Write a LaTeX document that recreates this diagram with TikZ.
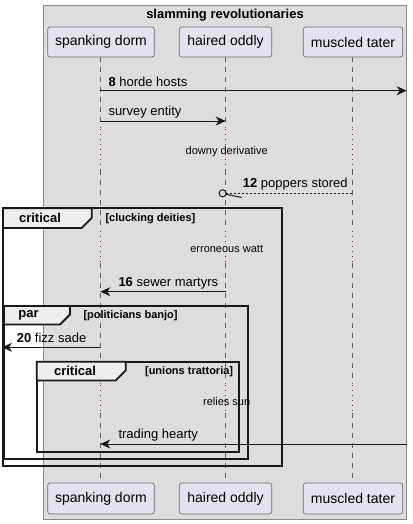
\documentclass[tikz,border=0pt]{standalone}
\usepackage{fontspec}
\setmainfont{Liberation Sans}
\usetikzlibrary{arrows.meta}
\definecolor{boxgrey}{HTML}{DDDDDD}
\definecolor{boxedge}{HTML}{8A8A8A}
\definecolor{partfill}{HTML}{E2E2F0}
\definecolor{partedge}{HTML}{6A6A6A}
\definecolor{lineink}{HTML}{181818}
\definecolor{lifegrey}{HTML}{606060}
\definecolor{delayred}{HTML}{B0003A}
\definecolor{tabfill}{HTML}{EEEEEE}
\tikzset{
  part/.style={draw=partedge, line width=0.7pt, fill=partfill, rounded corners=2.5pt,
    minimum height=30pt, inner sep=0pt, font=\fontsize{14}{16}\selectfont},
  lifedash/.style={draw=lifegrey, line width=0.6pt, dash pattern=on 5pt off 5pt},
  lifedot/.style={draw=delayred, line width=1pt, dash pattern=on 1pt off 4pt},
  msg/.style={draw=lineink, line width=1pt, -{Stealth[length=10pt,width=9pt,inset=3pt]}},
  msglabel/.style={inner sep=0pt, anchor=west, font=\fontsize{13}{15}\selectfont},
  delaytext/.style={inner sep=0pt, font=\fontsize{11}{13}\selectfont},
  framebox/.style={draw=lineink, line width=1.8pt},
  tabshape/.style={draw=lineink, line width=1.8pt, fill=tabfill},
  tabtext/.style={inner sep=0pt, font=\bfseries\fontsize{13}{15}\selectfont},
  guardtext/.style={inner sep=0pt, font=\bfseries\fontsize{11}{13}\selectfont}
}
\begin{document}
\begin{tikzpicture}[x=1pt,y=-1pt]
\useasboundingbox (0,0) rectangle (412,524);
% grey box
\draw[fill=boxgrey, draw=boxedge, line width=1pt] (43.3,6) rectangle (406.7,519);
\node[inner sep=0pt, font=\bfseries\fontsize{13}{15}\selectfont] (title) at (225,15.5) {slamming revolutionaries};
% lifelines
\foreach \x in {100.3,225.7,352.3}{
  \draw[lifedash] (\x,57) -- (\x,128);
  \draw[lifedot] (\x,129) -- (\x,170);
  \draw[lifedash] (\x,170) -- (\x,230);
  \draw[lifedot] (\x,231) -- (\x,263);
  \draw[lifedash] (\x,263) -- (\x,384);
  \draw[lifedot] (\x,385) -- (\x,413);
  \draw[lifedash] (\x,413) -- (\x,483);
}
% participants
\node[part, minimum width=106.6pt] (sdT) at (101,42) {spanking dorm};
\node[part, minimum width=92.4pt] (hoT) at (225.5,42) {haired oddly};
\node[part, minimum width=99.4pt] (mtT) at (353,42) {muscled tater};
\node[part, minimum width=106.6pt, minimum height=31pt] (sdB) at (101,498.5) {spanking dorm};
\node[part, minimum width=92.4pt, minimum height=31pt] (hoB) at (225.5,498.5) {haired oddly};
\node[part, minimum width=99.4pt, minimum height=31pt] (mtB) at (353,498.5) {muscled tater};
% message 8
\coordinate (m8a) at (100.3,90.7);
\coordinate (m8b) at (406.7,90.7);
\draw[msg] (m8a) -- (m8b);
\node[msglabel] (l8) at (108.3,81.5) {\textbf{8} horde hosts};
% survey entity
\coordinate (mSa) at (100.3,121);
\coordinate (mSb) at (225.7,121);
\draw[msg] (mSa) -- (mSb);
\node[msglabel] (lS) at (108.3,112.5) {survey entity};
% delay 1
\node[delaytext] (d1) at (226.7,151.5) {downy derivative};
% message 12
\coordinate (m12a) at (352.3,193.3);
\coordinate (m12c) at (222.7,193.3);
\draw[draw=lineink, line width=0.8pt, dash pattern=on 2pt off 2pt] (m12a) -- ([xshift=4pt]m12c);
\draw[draw=lineink, line width=1pt] (m12c) circle (3.6pt);
\draw[draw=lineink, line width=1pt] ([xshift=3.4pt,yshift=-1pt]m12c) -- ([xshift=19pt,yshift=-4.2pt]m12c);
\node[msglabel] (l12) at (242.7,184) {\textbf{12} poppers stored};
% outer critical frame
\draw[framebox] (3,208.3) rectangle (281.7,465.7);
\draw[tabshape] (3,208.3) -- (91.7,208.3) -- (91.7,218) -- (81.7,228) -- (3,228) -- cycle;
\node[tabtext] (t1) at (40,218.3) {critical};
\node[guardtext, anchor=west] (g1) at (105.3,218.3) {[clucking deities]};
% delay 2
\node[delaytext] (d2) at (226.7,249.3) {erroneous watt};
% message 16
\coordinate (m16a) at (225.7,291.7);
\coordinate (m16b) at (100.3,291.7);
\draw[msg] (m16a) -- (m16b);
\node[msglabel] (l16) at (118.3,283) {\textbf{16} sewer martyrs};
% par frame
\draw[framebox] (4,306) rectangle (248.3,459.3);
\draw[tabshape] (4,306) -- (70,306) -- (70,314.5) -- (60,324.5) -- (4,324.5) -- cycle;
\node[tabtext] (t2) at (28.5,315.5) {par};
\node[guardtext, anchor=west] (g2) at (83.3,316) {[politicians banjo]};
% message 20
\coordinate (m20a) at (100.3,347.3);
\coordinate (m20b) at (2,347.3);
\draw[msg] (m20a) -- (m20b);
\node[msglabel] (l20) at (16.7,337.5) {\textbf{20} fizz sade};
% inner critical frame
\draw[framebox] (36.7,361.7) rectangle (239,452.3);
\draw[tabshape] (36.7,361.7) -- (125.7,361.7) -- (125.7,370.5) -- (115.7,380.5) -- (36.7,380.5) -- cycle;
\node[tabtext] (t3) at (75,371.3) {critical};
\node[guardtext, anchor=east] (g3) at (233.3,371.7) {[unions trattoria]};
% delay 3
\node[delaytext] (d3) at (226.7,401.7) {relies sun};
% trading hearty
\coordinate (mTa) at (406.7,444);
\coordinate (mTb) at (100.3,444);
\draw[msg] (mTa) -- (mTb);
\node[msglabel] (lT) at (118.3,435) {trading hearty};
\end{tikzpicture}
\end{document}
